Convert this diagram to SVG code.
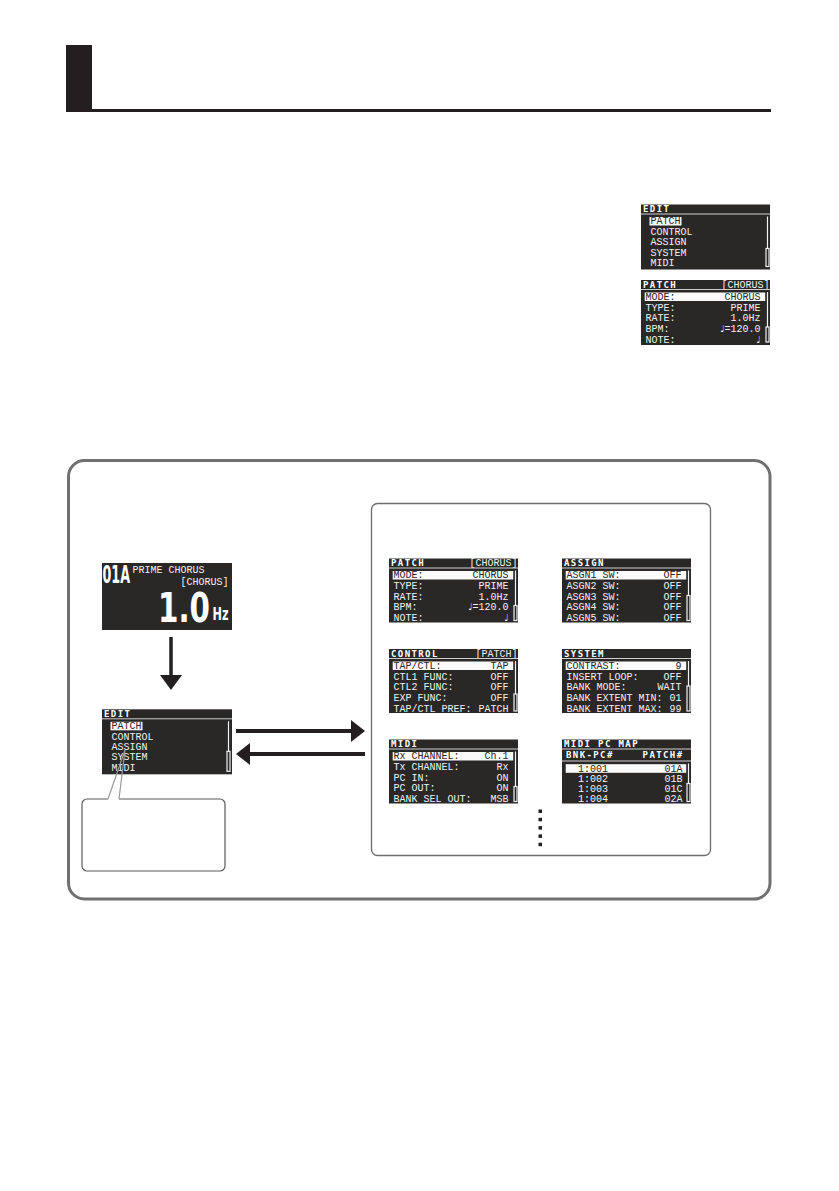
<svg xmlns="http://www.w3.org/2000/svg" width="839" height="1191" viewBox="0 0 839 1191">
<style>
.scr{fill:#2a2727}
.sep{stroke:#cfcfcf;stroke-width:1}
.t{font-family:"Liberation Mono","DejaVu Sans Mono",monospace;font-size:10px;fill:#f2f2f2}
.h{font-family:"DejaVu Sans Mono",monospace;font-weight:bold;font-size:9px;letter-spacing:1.4px;fill:#ffffff}
.hl{fill:#fafafa}
.ht{fill:#2a2727}
.v{text-anchor:end}
.n{font-family:"DejaVu Sans",sans-serif;font-size:9.5px}
.sb{stroke:#f2f2f2;stroke-width:1.2;fill:none}
.big{font-family:"DejaVu Sans Condensed","DejaVu Sans",sans-serif;font-weight:bold;fill:#ffffff}
.arr{stroke:#231f20;fill:none}
.ah{fill:#231f20}
</style>
<rect width="839" height="1191" fill="#ffffff"/>

<g id="header">
<rect x="66" y="45" width="26" height="67" fill="#231f20"/>
<rect x="66" y="109" width="705" height="3" fill="#231f20"/>
</g>

<!-- right side small screens -->
<g id="edit-small" transform="translate(641,204.5)">
<rect class="scr" x="0" y="0" width="129" height="65"/>
<text class="h" x="2" y="7.5">EDIT</text>
<line class="sep" x1="0" y1="9.5" x2="129" y2="9.5"/>
<rect class="hl" x="8.5" y="12.5" width="32" height="8.5"/>
<text class="t ht" x="9.5" y="19.9">PATCH</text>
<text class="t" x="9.5" y="30.6">CONTROL</text>
<text class="t" x="9.5" y="40.9">ASSIGN</text>
<text class="t" x="9.5" y="51.2">SYSTEM</text>
<text class="t" x="9.5" y="61.9">MIDI</text>
<line class="sb" x1="126.5" y1="12" x2="126.5" y2="44"/>
<rect class="sb" x="125" y="44" width="3" height="18"/>
</g>

<g id="patch-small" transform="translate(641,280)">
<rect class="scr" x="0" y="0" width="129" height="65"/>
<text class="h" x="2" y="7.5">PATCH</text>
<text class="t v" x="128.5" y="7.8">[CHORUS]</text>
<line class="sep" x1="0" y1="9.5" x2="129" y2="9.5"/>
<rect class="hl" x="3.7" y="12.5" width="120.5" height="8.5"/>
<text class="t ht" x="4.5" y="19.9">MODE:</text><text class="t ht v" x="119.5" y="19.9">CHORUS</text>
<text class="t" x="4.5" y="30.5">TYPE:</text><text class="t v" x="119.5" y="30.5">PRIME</text>
<text class="t" x="4.5" y="41.2">RATE:</text><text class="t v" x="119.5" y="41.2">1.0Hz</text>
<text class="t" x="4.5" y="51.9">BPM:</text><text class="t v" x="119.5" y="51.9"><tspan class="n">♩</tspan>=120.0</text>
<text class="t" x="4.5" y="62.5">NOTE:</text><text class="t v" x="119.5" y="62.5"><tspan class="n">♩</tspan></text>
<line class="sb" x1="126.5" y1="12" x2="126.5" y2="47"/>
<rect class="sb" x="125" y="47" width="3" height="15"/>
</g>

<!-- frame boxes -->
<g id="outer-box">
<rect x="68.5" y="460.5" width="701.5" height="438.5" rx="16" ry="16" fill="none" stroke="#707070" stroke-width="3"/>
</g>
<g id="inner-box">
<rect x="371.5" y="503.5" width="339" height="352" rx="6" ry="6" fill="none" stroke="#6d6d6d" stroke-width="1.3"/>
</g>

<!-- main play screen -->
<g id="play-screen" transform="translate(102,563)">
<rect class="scr" x="0" y="0" width="130" height="67"/>
<text class="big" transform="translate(0.5,20) scale(1,1.55)" x="0" y="0" font-size="16" textLength="27.5" lengthAdjust="spacingAndGlyphs">01A</text>
<text class="t" x="30.5" y="10">PRIME CHORUS</text>
<text class="t v" x="126.5" y="21.5">[CHORUS]</text>
<text class="big" transform="translate(56,58.6) scale(1,1.15)" x="0" y="0" font-size="35" textLength="52" lengthAdjust="spacingAndGlyphs">1.0</text>
<text class="big" transform="translate(110.5,57) scale(1,1.4)" x="0" y="0" font-size="12.6" textLength="16" lengthAdjust="spacingAndGlyphs">Hz</text>
</g>

<!-- left EDIT screen -->
<g id="edit-screen" transform="translate(102,709.3)">
<rect class="scr" x="0" y="0" width="130" height="65"/>
<text class="h" x="2" y="7.5">EDIT</text>
<line class="sep" x1="0" y1="9.5" x2="130" y2="9.5"/>
<rect class="hl" x="8.5" y="12.5" width="32" height="8.5"/>
<text class="t ht" x="9.5" y="19.9">PATCH</text>
<text class="t" x="9.5" y="30.6">CONTROL</text>
<text class="t" x="9.5" y="40.9">ASSIGN</text>
<text class="t" x="9.5" y="51.2">SYSTEM</text>
<text class="t" x="9.5" y="61.9">MIDI</text>
<line class="sb" x1="126.5" y1="12" x2="126.5" y2="42"/>
<rect class="sb" x="125" y="42" width="3" height="20"/>
</g>

<!-- callout -->
<g id="callout">
<path d="M119 799 H220 A5 5 0 0 1 225 804 V866 A5 5 0 0 1 220 871 H87 A5 5 0 0 1 82 866 V804 A5 5 0 0 1 87 799 H108" fill="#ffffff" stroke="#5a5a5a" stroke-width="1.2"/>
<path d="M108 799 L125 750 L119 799" fill="none" stroke="#9a9a9a" stroke-width="1.2"/>
</g>

<!-- edit page screens -->
<g id="patch-screen" transform="translate(389,558.5)">
<rect class="scr" x="0" y="0" width="129" height="64"/>
<text class="h" x="2" y="7.5">PATCH</text>
<text class="t v" x="128.5" y="7.8">[CHORUS]</text>
<line class="sep" x1="0" y1="9.5" x2="129" y2="9.5"/>
<rect class="hl" x="3.7" y="12.5" width="120.5" height="8.5"/>
<text class="t ht" x="4.5" y="19.9">MODE:</text><text class="t ht v" x="119.5" y="19.9">CHORUS</text>
<text class="t" x="4.5" y="30.5">TYPE:</text><text class="t v" x="119.5" y="30.5">PRIME</text>
<text class="t" x="4.5" y="41.2">RATE:</text><text class="t v" x="119.5" y="41.2">1.0Hz</text>
<text class="t" x="4.5" y="51.9">BPM:</text><text class="t v" x="119.5" y="51.9"><tspan class="n">♩</tspan>=120.0</text>
<text class="t" x="4.5" y="62.5">NOTE:</text><text class="t v" x="119.5" y="62.5"><tspan class="n">♩</tspan></text>
<line class="sb" x1="126.5" y1="12" x2="126.5" y2="47"/>
<rect class="sb" x="125" y="47" width="3" height="15"/>
</g>

<g id="assign-screen" transform="translate(562,558.5)">
<rect class="scr" x="0" y="0" width="129" height="64"/>
<text class="h" x="2" y="7.5">ASSIGN</text>
<line class="sep" x1="0" y1="9.5" x2="129" y2="9.5"/>
<rect class="hl" x="3.7" y="12.5" width="120.5" height="8.5"/>
<text class="t ht" x="4.5" y="19.9">ASGN1 SW:</text><text class="t ht v" x="119.5" y="19.9">OFF</text>
<text class="t" x="4.5" y="30.5">ASGN2 SW:</text><text class="t v" x="119.5" y="30.5">OFF</text>
<text class="t" x="4.5" y="41.2">ASGN3 SW:</text><text class="t v" x="119.5" y="41.2">OFF</text>
<text class="t" x="4.5" y="51.9">ASGN4 SW:</text><text class="t v" x="119.5" y="51.9">OFF</text>
<text class="t" x="4.5" y="62.5">ASGN5 SW:</text><text class="t v" x="119.5" y="62.5">OFF</text>
<line class="sb" x1="126.5" y1="12" x2="126.5" y2="37"/>
<rect class="sb" x="125" y="37" width="3" height="25"/>
</g>

<g id="control-screen" transform="translate(389,649)">
<rect class="scr" x="0" y="0" width="129" height="64"/>
<text class="h" x="2" y="7.5">CONTROL</text>
<text class="t v" x="128.5" y="7.8">[PATCH]</text>
<line class="sep" x1="0" y1="9.5" x2="129" y2="9.5"/>
<rect class="hl" x="3.7" y="12.5" width="120.5" height="8.5"/>
<text class="t ht" x="4.5" y="19.9">TAP/CTL:</text><text class="t ht v" x="119.5" y="19.9">TAP</text>
<text class="t" x="4.5" y="30.5">CTL1 FUNC:</text><text class="t v" x="119.5" y="30.5">OFF</text>
<text class="t" x="4.5" y="41.2">CTL2 FUNC:</text><text class="t v" x="119.5" y="41.2">OFF</text>
<text class="t" x="4.5" y="51.9">EXP FUNC:</text><text class="t v" x="119.5" y="51.9">OFF</text>
<text class="t" x="4.5" y="62.5">TAP/CTL PREF:</text><text class="t v" x="119.5" y="62.5">PATCH</text>
<line class="sb" x1="126.5" y1="12" x2="126.5" y2="45"/>
<rect class="sb" x="125" y="45" width="3" height="17"/>
</g>

<g id="system-screen" transform="translate(562,649)">
<rect class="scr" x="0" y="0" width="129" height="64"/>
<text class="h" x="2" y="7.5">SYSTEM</text>
<line class="sep" x1="0" y1="9.5" x2="129" y2="9.5"/>
<rect class="hl" x="3.7" y="12.5" width="120.5" height="8.5"/>
<text class="t ht" x="4.5" y="19.9">CONTRAST:</text><text class="t ht v" x="119.5" y="19.9">9</text>
<text class="t" x="4.5" y="30.5">INSERT LOOP:</text><text class="t v" x="119.5" y="30.5">OFF</text>
<text class="t" x="4.5" y="41.2">BANK MODE:</text><text class="t v" x="119.5" y="41.2">WAIT</text>
<text class="t" x="4.5" y="51.9">BANK EXTENT MIN:</text><text class="t v" x="119.5" y="51.9">01</text>
<text class="t" x="4.5" y="62.5">BANK EXTENT MAX:</text><text class="t v" x="119.5" y="62.5">99</text>
<line class="sb" x1="126.5" y1="12" x2="126.5" y2="37"/>
<rect class="sb" x="125" y="37" width="3" height="25"/>
</g>

<g id="midi-screen" transform="translate(389,739.5)">
<rect class="scr" x="0" y="0" width="129" height="64"/>
<text class="h" x="2" y="7.5">MIDI</text>
<line class="sep" x1="0" y1="9.5" x2="129" y2="9.5"/>
<rect class="hl" x="3.7" y="12.5" width="120.5" height="8.5"/>
<text class="t ht" x="4.5" y="19.9">Rx CHANNEL:</text><text class="t ht v" x="119.5" y="19.9">Ch.1</text>
<text class="t" x="4.5" y="30.5">Tx CHANNEL:</text><text class="t v" x="119.5" y="30.5">Rx</text>
<text class="t" x="4.5" y="41.2">PC IN:</text><text class="t v" x="119.5" y="41.2">ON</text>
<text class="t" x="4.5" y="51.9">PC OUT:</text><text class="t v" x="119.5" y="51.9">ON</text>
<text class="t" x="4.5" y="62.5">BANK SEL OUT:</text><text class="t v" x="119.5" y="62.5">MSB</text>
<line class="sb" x1="126.5" y1="12" x2="126.5" y2="47"/>
<rect class="sb" x="125" y="47" width="3" height="15"/>
</g>

<g id="midi-pc-map-screen" transform="translate(562,739.5)">
<rect class="scr" x="0" y="0" width="129" height="64"/>
<text class="h" x="2" y="7.5">MIDI PC MAP</text>
<line class="sep" x1="0" y1="9.5" x2="129" y2="9.5"/>
<text class="h" x="4" y="18.8">BNK-PC#</text>
<text class="h v" x="121.5" y="18.8">PATCH#</text>
<line class="sep" x1="0" y1="21.5" x2="129" y2="21.5"/>
<rect class="hl" x="3.7" y="24.7" width="120.5" height="8.6"/>
<text class="t ht" x="16" y="32.2">1:001</text><text class="t ht v" x="120.5" y="32.2">01A</text>
<text class="t" x="16" y="42">1:002</text><text class="t v" x="120.5" y="42">01B</text>
<text class="t" x="16" y="52">1:003</text><text class="t v" x="120.5" y="52">01C</text>
<text class="t" x="16" y="62.2">1:004</text><text class="t v" x="120.5" y="62.2">02A</text>
<line class="sb" x1="126.5" y1="24" x2="126.5" y2="44"/>
<rect class="sb" x="125" y="44" width="3" height="18"/>
</g>

<!-- connectors -->
<g id="connectors">
<line class="arr" x1="171" y1="637" x2="171" y2="677" stroke-width="3.5"/>
<polygon class="ah" points="160,675 182,675 171,690"/>
<line class="arr" x1="236" y1="731" x2="353" y2="731" stroke-width="4"/>
<polygon class="ah" points="351,720 365,731 351,742"/>
<line class="arr" x1="248" y1="754" x2="365" y2="754" stroke-width="4"/>
<polygon class="ah" points="250,743 236,754 250,765"/>
<g class="ah">
<rect x="538.5" y="809.5" width="3.5" height="3.5"/>
<rect x="538.5" y="817.8" width="3.5" height="3.5"/>
<rect x="538.5" y="826.1" width="3.5" height="3.5"/>
<rect x="538.5" y="834.4" width="3.5" height="3.5"/>
<rect x="538.5" y="842.7" width="3.5" height="3.5"/>
</g>
</g>
</svg>
